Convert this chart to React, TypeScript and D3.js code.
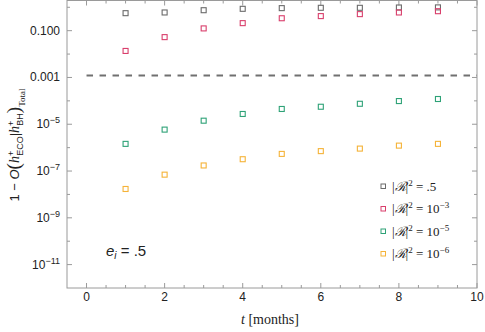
import React from "react";
import * as d3 from "d3";

const months = [1, 2, 3, 4, 5, 6, 7, 8, 9];
const seriesHalf = [0.56, 0.6, 0.75, 0.86, 0.92, 0.95, 0.95, 0.98, 0.99];
const seriesE3 = [0.0136, 0.053, 0.125, 0.21, 0.34, 0.42, 0.51, 0.6, 0.68];
const seriesE5 = [1.45e-6, 5.9e-6, 1.42e-5, 2.75e-5, 4.5e-5, 5.6e-5, 7.5e-5, 9.8e-5, 1.2e-4];
const seriesE6 = [1.71e-8, 7e-8, 1.73e-7, 3.2e-7, 5.4e-7, 7.1e-7, 9.1e-7, 1.22e-6, 1.45e-6];
const thresholdValue = 0.0012;
const xTicks = [0, 2, 4, 6, 8, 10];
const yLabelTicks = [1e-1, 1e-3, 1e-5, 1e-7, 1e-9, 1e-11];
const legendLabels = [".5", "10", "10", "10"];
const legendExps = ["", "−3", "−5", "−6"];

const colors = ["#6b6b6b", "#d93f6c", "#2ea277", "#f5b338"];
const allSeries = [seriesHalf, seriesE3, seriesE5, seriesE6];

const W = 485, H = 332;
const L = 67, R = 477, T = 0.5, B = 288;

export default function App() {
  const x = d3.scaleLinear().domain([-0.5, 10]).range([L, R]);
  const y = d3.scaleLog().domain([1e-12, Math.pow(10, 0.29)]).range([B, T]);
  const axisColor = "#9a9a9a";
  const minorX = d3.range(-0.5, 10.01, 0.5).filter((v) => v > -0.5 && v < 10 && !xTicks.includes(v));
  const decades = d3.range(-11, 1).map((e) => Math.pow(10, e));
  const sq = 5;
  const sans = "'Liberation Sans', Arial, sans-serif";
  const serif = "'Liberation Serif', 'Times New Roman', serif";

  const yLabelFmt = (v: number) => {
    const e = Math.round(Math.log10(v));
    if (e === -1) return <tspan>0.100</tspan>;
    if (e === -3) return <tspan>0.001</tspan>;
    return (
      <>
        <tspan>10</tspan>
        <tspan dy={-5} fontSize={9}>{"−" + Math.abs(e)}</tspan>
      </>
    );
  };

  return (
    <svg width={W} height={H} style={{ position: "absolute", left: 0, top: 0, background: "#fff" }}>
      <rect x={L} y={T} width={R - L} height={B - T} fill="none" stroke={axisColor} strokeWidth={1} />
      {xTicks.map((v) => (
        <g key={"xt" + v}>
          <line x1={x(v)} x2={x(v)} y1={B} y2={B - 5} stroke={axisColor} />
          <line x1={x(v)} x2={x(v)} y1={T} y2={T + 5} stroke={axisColor} />
          <text x={x(v)} y={301} textAnchor="middle" fontFamily={sans} fontSize={12} fill="#222">{v}</text>
        </g>
      ))}
      {minorX.map((v) => (
        <g key={"xm" + v}>
          <line x1={x(v)} x2={x(v)} y1={B} y2={B - 3} stroke={axisColor} />
          <line x1={x(v)} x2={x(v)} y1={T} y2={T + 3} stroke={axisColor} />
        </g>
      ))}
      {decades.map((v) => {
        const major = yLabelTicks.some((t) => Math.abs(Math.log10(t) - Math.log10(v)) < 0.01);
        const len = major ? 5 : 3;
        return (
          <g key={"yt" + v}>
            <line x1={L} x2={L + len} y1={y(v)} y2={y(v)} stroke={axisColor} />
            <line x1={R} x2={R - len} y1={y(v)} y2={y(v)} stroke={axisColor} />
          </g>
        );
      })}
      {yLabelTicks.map((v) => (
        <text key={"yl" + v} x={60} y={y(v) + 4} textAnchor="end" fontFamily={sans} fontSize={12} fill="#222">
          {yLabelFmt(v)}
        </text>
      ))}
      <line x1={x(0)} x2={R} y1={y(thresholdValue)} y2={y(thresholdValue)} stroke="#707070" strokeWidth={2} strokeDasharray="6.5,6.5" />
      {allSeries.map((s, i) => (
        <g key={"s" + i}>
          {s.map((v, j) => (
            <rect key={j} x={x(months[j]) - sq / 2} y={y(v) - sq / 2} width={sq} height={sq} fill="none" stroke={colors[i]} strokeWidth={1.1} />
          ))}
        </g>
      ))}
      {legendLabels.map((lab, i) => {
        const ly = 186 + i * 22.5;
        return (
          <g key={"lg" + i}>
            <rect x={383 - 2} y={ly - 2} width={4.5} height={4.5} fill="none" stroke={colors[i]} strokeWidth={1} />
            <text x={392} y={ly + 4.5} fontFamily={serif} fontSize={13} fill="#222">
              <tspan>|</tspan>
              <tspan fontStyle="italic">ℛ</tspan>
              <tspan>|</tspan>
              <tspan dy={-5} fontSize={9}>2</tspan>
              <tspan dy={5}>{" = " + lab}</tspan>
              {legendExps[i] && <tspan dy={-5} fontSize={9}>{legendExps[i]}</tspan>}
            </text>
          </g>
        );
      })}
      <text x={106} y={256} fontFamily={sans} fontSize={15} fill="#222">
        <tspan fontStyle="italic">e</tspan>
        <tspan dy={3} fontSize={10} fontStyle="italic">i</tspan>
        <tspan dy={-3}>{" = .5"}</tspan>
      </text>
      <text x={270} y={324} textAnchor="middle" fontFamily={serif} fontSize={14} fill="#222">
        <tspan fontStyle="italic">t</tspan>
        <tspan>{" [months]"}</tspan>
      </text>
      <text transform="translate(19,145) rotate(-90)" textAnchor="middle" fontSize={13} fill="#222" fontFamily={sans}>
        <tspan>1 − </tspan>
        <tspan fontStyle="italic">O</tspan>
        <tspan fontSize={19} fontFamily={serif} dy={1}>(</tspan>
        <tspan fontStyle="italic" fontFamily={serif} fontSize={14} dy={-1}>h</tspan>
        <tspan fontSize={9} dy={-5}>+</tspan>
        <tspan fontSize={9} dx={-5} dy={9}>ECO</tspan>
        <tspan dy={-4}>|</tspan>
        <tspan fontStyle="italic" fontFamily={serif} fontSize={14}>h</tspan>
        <tspan fontSize={9} dy={-5}>+</tspan>
        <tspan fontSize={9} dx={-5} dy={9}>BH</tspan>
        <tspan fontSize={19} fontFamily={serif} dy={-3}>)</tspan>
        <tspan fontSize={9} fontFamily={serif} dy={5}>Total</tspan>
      </text>
    </svg>
  );
}
